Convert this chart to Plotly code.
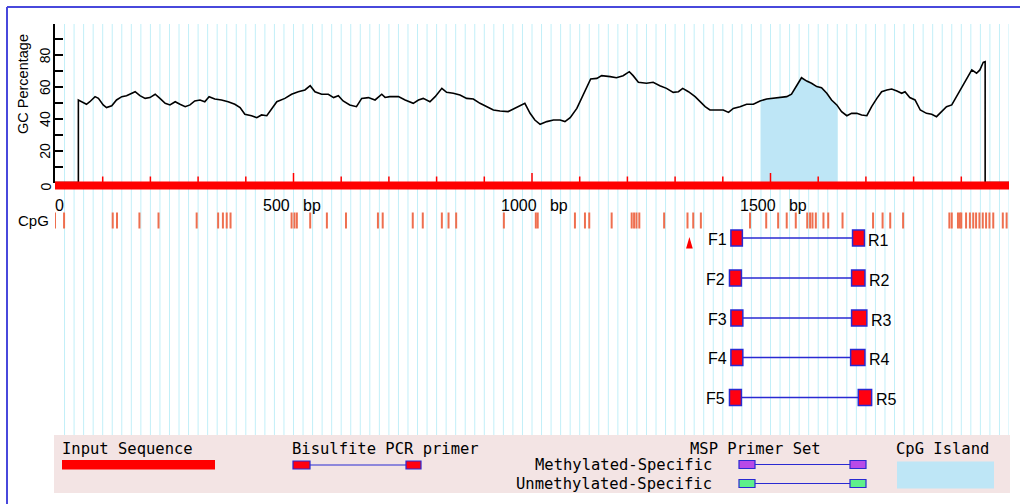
import numpy as np
import plotly.graph_objects as go

W, H = 1020, 504

# ---------------- data ----------------
seq_len = 2000
gc_bp = [0, 49, 49, 56, 66, 73, 84, 91, 101, 108, 119, 129, 140, 150, 157, 168, 178, 189, 199,
         210, 220, 231, 241, 252, 262, 273, 283, 293, 304, 314, 323, 335, 349, 363, 377, 388,
         398, 412, 423, 433, 444, 454, 465, 482, 496, 510, 524, 535, 545, 559, 573, 584, 594,
         604, 618, 632, 643, 657, 671, 685, 692, 702, 720, 734, 751, 762, 772, 786, 797, 811,
         821, 835, 849, 863, 877, 891, 905, 919, 933, 950, 961, 975, 985, 996, 1006, 1017,
         1031, 1045, 1059, 1069, 1080, 1094, 1104, 1115, 1123, 1136, 1146, 1164, 1177, 1191,
         1204, 1212, 1223, 1240, 1254, 1268, 1282, 1296, 1307, 1316, 1328, 1342, 1356, 1363,
         1373, 1387, 1401, 1412, 1422, 1436, 1450, 1464, 1478, 1492, 1506, 1520, 1534, 1544,
         1555, 1565, 1576, 1586, 1597, 1607, 1618, 1628, 1639, 1649, 1660, 1670, 1681, 1691,
         1702, 1712, 1723, 1733, 1744, 1754, 1765, 1775, 1782, 1792, 1803, 1814, 1827, 1838,
         1848, 1859, 1869, 1880, 1890, 1901, 1911, 1922, 1932, 1939, 1946, 1950, 1950, 2000]
gc_pct = [0, 0, 51.9, 50.8, 49.2, 50.8, 54, 52.9, 48.8, 47.1, 48.3, 51.9, 54, 54.6, 55.5, 57.1,
          54.6, 52.9, 53.4, 55.5, 52.9, 49.8, 48.8, 50.8, 49.2, 47.7, 48.8, 51.3, 51.9, 50.8,
          54, 52.5, 51.9, 50.8, 49.2, 47.1, 42.9, 42, 40.8, 42.5, 42, 46.6, 50.8, 52.9, 55.5,
          57.1, 58.2, 60.9, 57.1, 55.5, 55.5, 53.4, 54.6, 51.3, 48.8, 47.7, 52.9, 53.4, 51.9,
          55.5, 53.5, 54, 54, 51.9, 49.8, 51.9, 52.9, 50.8, 54, 59.2, 56.7, 56.1, 55, 52.9,
          52.5, 49.8, 47.7, 45.6, 45, 44.6, 46.2, 48.3, 49.8, 43.5, 39.3, 36.6, 38.3, 39.3,
          39.3, 38.3, 40.8, 46.6, 52.9, 59.2, 65.1, 65.5, 67.2, 66.6, 65.9, 67.2, 69.7, 67.2,
          63, 62.4, 63, 60.9, 59.2, 56.7, 57.1, 59.2, 57.1, 54, 49.8, 47.7, 45.6, 45.6, 45.6,
          44.1, 46.6, 47.7, 49.2, 49.2, 51.3, 52.5, 52.9, 53.4, 54, 55.5, 61.3, 65.9, 63.8,
          62.4, 60.3, 59.6, 56.1, 51.9, 48.8, 44.6, 42, 43.5, 43.5, 42.5, 42, 47.7, 52.9, 57.1,
          58.2, 58.8, 57.6, 56.1, 57.1, 53.4, 51.9, 45.6, 43.5, 42.9, 41.4, 44.6, 47.7, 48.8,
          54, 60.3, 65.1, 70.8, 68.7, 70.8, 75.6, 76, 0, 0]

island_start, island_end = 1480, 1640

cpg_sites = [0, 19, 121, 130, 177, 217, 297, 342, 352, 360, 368, 496, 502, 507, 535, 570, 610,
             677, 687, 750, 771, 811, 825, 841, 941, 1008, 1012, 1090, 1111, 1120, 1167, 1209,
             1214, 1219, 1225, 1277, 1326, 1338, 1354, 1457, 1491, 1516, 1534, 1553, 1577,
             1583, 1588, 1595, 1611, 1621, 1651, 1715, 1735, 1751, 1778, 1875, 1880, 1893,
             1897, 1900, 1910, 1918, 1925, 1931, 1938, 1945, 1952, 1959, 1967, 1987, 1995]

primer_names = ["1", "2", "3", "4", "5"]
f_start = [1417, 1414, 1417, 1417, 1414]
f_end = [1441, 1439, 1442, 1442, 1439]
r_start = [1672, 1670, 1670, 1668, 1684]
r_end = [1697, 1698, 1702, 1698, 1712]
tss_bp = 1330

x_tickvals = [0, 500, 1000, 1500]
x_ticktext = ["0", "500\u00a0\u00a0\u00a0bp", "1000\u00a0\u00a0\u00a0bp", "1500\u00a0\u00a0\u00a0bp"]
y_tickvals = list(range(0, 101, 10))
y_labelvals = [0, 20, 40, 60, 80]
y_labeltext = ["0", "20", "40", "60", "80"]

# ---------------- layout helpers (pixel -> paper) ----------------
def px(x):
    return x / W

def py(y):
    return 1 - y / H

X0, X1 = 55, 1009          # pixel extent of 0..seq_len
Y0, Y100 = 182.5, 23.5     # pixel of GC 0 and GC 100
row_y = [238, 278, 318, 357.5, 397.5]
BLUE = "#2a2ad2"
GRID = "#c2eff8"
CPG_COL = "#ee6f4f"
ISLAND = "#bee6f6"

fig = go.Figure()

gc_bp_a = np.array(gc_bp, dtype=float)
gc_a = np.array(gc_pct, dtype=float)

# island fill
m = (gc_bp_a > island_start) & (gc_bp_a < island_end)
mono = slice(2, -2)
ys = float(np.interp(island_start, gc_bp_a[mono], gc_a[mono]))
ye = float(np.interp(island_end, gc_bp_a[mono], gc_a[mono]))
ix = [island_start] + list(gc_bp_a[m]) + [island_end]
iy = [ys] + list(gc_a[m]) + [ye]
fig.add_trace(go.Scatter(x=ix, y=iy, xaxis="x", yaxis="y", mode="lines", fill="tozeroy",
                         fillcolor=ISLAND, line=dict(width=0, color=ISLAND),
                         hoverinfo="skip", showlegend=False))

# GC curve
fig.add_trace(go.Scatter(x=gc_bp, y=gc_pct, xaxis="x", yaxis="y", mode="lines",
                         line=dict(color="black", width=1.6), hoverinfo="skip",
                         showlegend=False))

# CpG site ticks (pixel-y axis y2)
cx, cy = [], []
for s in cpg_sites:
    cx += [s, s, None]
    cy += [212.5, 228.5, None]
fig.add_trace(go.Scatter(x=cx, y=cy, xaxis="x", yaxis="y2", mode="lines",
                         line=dict(color=CPG_COL, width=2), hoverinfo="skip",
                         showlegend=False))

# ruler ticks on the red bar
tx, ty = [], []
for b in range(100, seq_len, 100):
    tx += [b, b, None]
    ty += [182, 173 if b % 500 == 0 else 176.5, None]
fig.add_trace(go.Scatter(x=tx, y=ty, xaxis="x", yaxis="y2", mode="lines",
                         line=dict(color="#ff0000", width=1.5), hoverinfo="skip",
                         showlegend=False))

shapes = []
annotations = []

# vertical grid every 20 bp (below traces)
for b in range(20, seq_len + 1, 20):
    shapes.append(dict(type="line", xref="x", yref="paper", x0=b, x1=b,
                       y0=py(24), y1=py(435), line=dict(color=GRID, width=1), layer="below"))

# red input-sequence bar
shapes.append(dict(type="rect", xref="x", yref="y2", x0=0, x1=seq_len, y0=181.5, y1=189.5,
                   fillcolor="#ff0000", line=dict(width=0)))

# x labels (bp ruler)
for v, t in zip(x_tickvals, x_ticktext):
    annotations.append(dict(x=v, y=205, xref="x", yref="y2", text=t, showarrow=False,
                            xanchor="left", yanchor="middle", xshift=(-2 if v == 0 else -33),
                            font=dict(family="Liberation Sans", size=16, color="black")))

# y labels (rotated)
for v, t in zip(y_labelvals, y_labeltext):
    annotations.append(dict(x=px(45), y=v, xref="paper", yref="y", text=t, showarrow=False,
                            textangle=-90, xanchor="center", yanchor="middle",
                            yshift=(-4 if v == 0 else 0),
                            font=dict(family="Liberation Sans", size=14, color="black")))

# primers
for i, name in enumerate(primer_names):
    yc = row_y[i]
    shapes.append(dict(type="line", xref="x", yref="y2", x0=f_end[i], x1=r_start[i],
                       y0=yc, y1=yc, line=dict(color=BLUE, width=1.5)))
    for a, b in ((f_start[i], f_end[i]), (r_start[i], r_end[i])):
        shapes.append(dict(type="rect", xref="x", yref="y2", x0=a, x1=b, y0=yc - 8, y1=yc + 8,
                           fillcolor="#ff0010", line=dict(color=BLUE, width=1.5)))
    annotations.append(dict(x=f_start[i], y=yc + 1, xref="x", yref="y2", text="F" + name,
                            showarrow=False, xanchor="right", yanchor="middle", xshift=-2,
                            font=dict(family="Liberation Sans", size=16, color="black")))
    annotations.append(dict(x=r_end[i], y=yc + 2, xref="x", yref="y2", text="R" + name,
                            showarrow=False, xanchor="left", yanchor="middle", xshift=2,
                            font=dict(family="Liberation Sans", size=16, color="black")))

# TSS triangle
shapes.append(dict(type="path", xref="x", yref="y2",
                   path=f"M {tss_bp - 7},248.5 L {tss_bp + 7},248.5 L {tss_bp},237 Z",
                   fillcolor="#ff0000", line=dict(width=0)))

# legend band
shapes.append(dict(type="rect", xref="paper", yref="paper", x0=px(54), x1=px(1010),
                   y0=py(435), y1=py(493), fillcolor="#f3e4e4", line=dict(width=0)))
mono_font = dict(family="DejaVu Sans Mono", size=15.5, color="black")
def leg_text(x, y, t, anchor="left"):
    annotations.append(dict(x=px(x), y=py(y), xref="paper", yref="paper", text=t,
                            showarrow=False, xanchor=anchor, yanchor="middle", font=mono_font,
                            xshift=(-1 if anchor == "left" else 2)))

leg_text(61, 449, "Input Sequence")
shapes.append(dict(type="rect", xref="paper", yref="paper", x0=px(62), x1=px(215),
                   y0=py(460), y1=py(469.5), fillcolor="#ff0000", line=dict(width=0)))
leg_text(291, 449, "Bisulfite PCR primer")
leg_text(689, 449, "MSP Primer Set")
leg_text(712, 465, "Methylated-Specific", "right")
leg_text(712, 483.5, "Unmethylated-Specific", "right")
leg_text(895, 449, "CpG Island")

def leg_primer(x0, x1, x2, x3, yc, color):
    shapes.append(dict(type="line", xref="paper", yref="paper", x0=px(x1), x1=px(x2),
                       y0=py(yc), y1=py(yc), line=dict(color=BLUE, width=1.2)))
    for a, b in ((x0, x1), (x2, x3)):
        shapes.append(dict(type="rect", xref="paper", yref="paper", x0=px(a), x1=px(b),
                           y0=py(yc - 4), y1=py(yc + 4), fillcolor=color,
                           line=dict(color=BLUE, width=1.2)))

leg_primer(293, 310, 406, 421, 465, "#ff0010")
leg_primer(739, 755, 850, 866, 464.5, "#b84ae8")
leg_primer(739, 755, 850, 866, 483.5, "#5ef08a")
shapes.append(dict(type="rect", xref="paper", yref="paper", x0=px(897), x1=px(994),
                   y0=py(461.5), y1=py(488.5), fillcolor=ISLAND, line=dict(width=0)))

# frame (top and left)
shapes.append(dict(type="line", xref="paper", yref="paper", x0=px(7), x1=px(W), y0=py(7),
                   y1=py(7), line=dict(color="#4848dc", width=2)))
shapes.append(dict(type="line", xref="paper", yref="paper", x0=px(7), x1=px(7), y0=py(7),
                   y1=py(H), line=dict(color="#4848dc", width=2)))

# labels
annotations.append(dict(x=px(51), y=py(220.5), xref="paper", yref="paper", text="CpG",
                        showarrow=False, xanchor="right", yanchor="middle",
                        font=dict(family="Liberation Sans", size=15, color="black")))
annotations.append(dict(x=px(23), y=py(84), xref="paper", yref="paper", text="GC Percentage",
                        showarrow=False, textangle=-90, xanchor="center", yanchor="middle",
                        font=dict(family="Liberation Sans", size=14.5, color="black")))

fig.update_layout(
    width=W, height=H,
    margin=dict(l=0, r=0, t=0, b=0),
    paper_bgcolor="white", plot_bgcolor="rgba(0,0,0,0)",
    showlegend=False,
    shapes=shapes, annotations=annotations,
    xaxis=dict(domain=[px(X0), px(X1)], range=[0, seq_len], anchor="y",
               showticklabels=False, ticks="", showline=False,
               showgrid=False, zeroline=False),
    yaxis=dict(domain=[py(Y0), py(Y100)], range=[0, 100], anchor="x",
               tickvals=y_tickvals, showticklabels=False, ticks="inside", ticklen=8,
               tickwidth=1.5, tickcolor="black", showline=True, linecolor="black",
               linewidth=1.5, showgrid=False, zeroline=False),
    yaxis2=dict(domain=[0, 1], range=[H, 0], anchor="x", visible=False),
)

fig.write_html("out.html")
